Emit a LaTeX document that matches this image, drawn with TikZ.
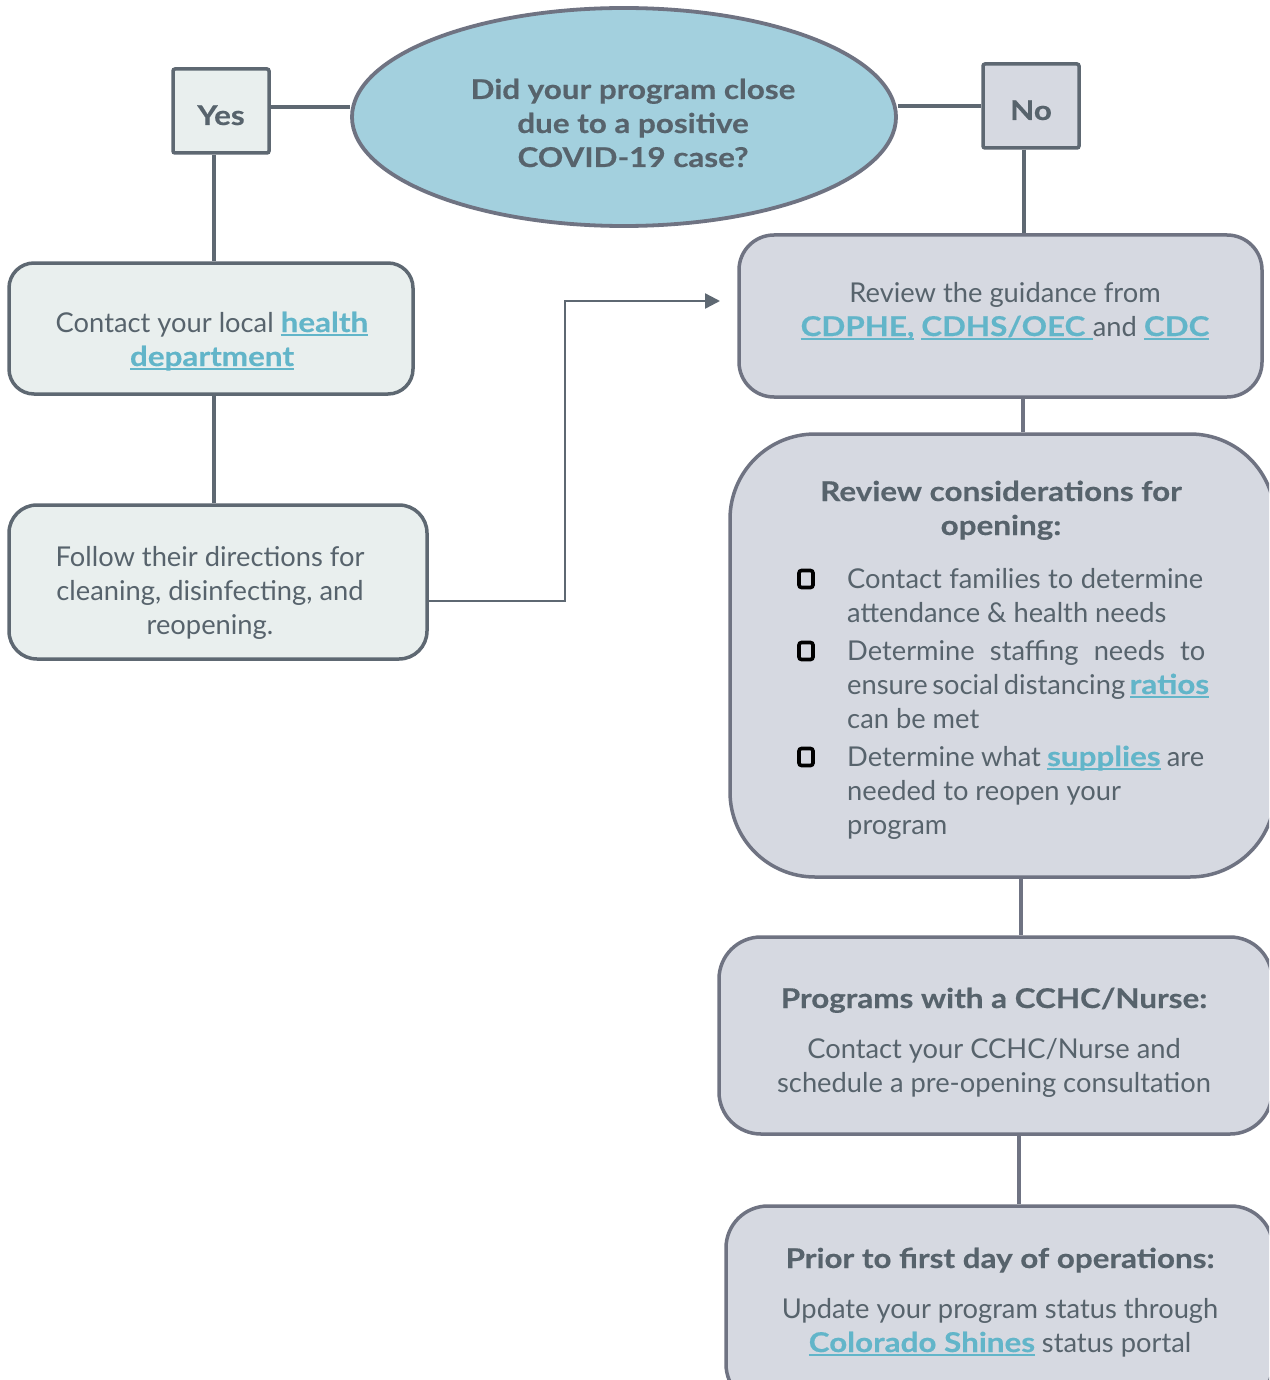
\documentclass[tikz,border=0pt]{standalone}
\usepackage{fontspec}
\setmainfont{Lato}
\newfontfamily\bfam{Lato}[FakeStretch=1.15, FakeBold=0.4]
\usetikzlibrary{shapes.geometric,arrows.meta}
\definecolor{tg}{HTML}{57636C}
\definecolor{lnk}{HTML}{62B5C9}
\definecolor{fa}{HTML}{E9EFEE}
\definecolor{fb}{HTML}{D6D9E1}
\definecolor{ba}{HTML}{5E6872}
\definecolor{bb}{HTML}{6F7382}
\definecolor{qf}{HTML}{A3D0DE}
\newcommand\lk[1]{{\color{lnk}\setbox0\hbox{\bfam\bfseries #1}\rlap{\rule[-3.5pt]{\wd0}{2pt}}\box0}}
\tikzset{
  txt/.style={inner sep=0pt, text=tg, font=\fontsize{27.3}{34}\selectfont, anchor=base},
  txtl/.style={txt, anchor=base west},
  btxt/.style={txt, font=\fontsize{27.3}{34}\selectfont\bfam\bfseries},
  boxa/.style={draw=ba, fill=fa, line width=3.5pt, inner sep=0pt},
  boxb/.style={draw=bb, fill=fb, line width=3.5pt, inner sep=0pt},
  conn/.style={draw=ba, line width=3.8pt},
  connb/.style={draw=bb, line width=3.8pt},
  arr/.style={draw=ba, line width=2.4pt, -{Triangle[length=15pt,width=15pt]}},
  chk/.style={draw=black, line width=3.6pt, rounded corners=2.5pt, minimum width=14pt, minimum height=17pt, inner sep=0pt},
}
\begin{document}
\begin{tikzpicture}[x=1pt,y=-1pt]
\useasboundingbox (0,0) rectangle (1269,1380);
\clip (0,0) rectangle (1269,1380);
\fill[white] (0,0) rectangle (1269,1380);

% question
\node[ellipse, draw=bb, fill=qf, line width=3.8pt, minimum width=544pt, minimum height=218pt, inner sep=0pt] (q) at (624,117) {};
\node[btxt] (q1) at (633,99) {Did your program close};
\node[btxt] (q2) at (633,133) {due to a positive};
\node[btxt] (q3) at (633,167) {COVID-19 case?};

% yes / no
\node[boxa, rounded corners=2pt, minimum width=96pt, minimum height=84pt] (yes) at (221,111) {};
\node[btxt] (yest) at (221,125) {Yes};
\node[boxa, fill=fb, rounded corners=2pt, minimum width=96pt, minimum height=84pt] (no) at (1031,106) {};
\node[btxt] (not) at (1031,120) {No};

% left boxes
\node[boxa, rounded corners=25pt, minimum width=404pt, minimum height=131pt] (b1) at (211,328.5) {};
\node[txt] (b1a) at (212,332) {Contact your local \lk{health}};
\node[txt] (b1b) at (212,366) {\lk{department}};

\node[boxa, rounded corners=28pt, minimum width=418pt, minimum height=154pt] (b2) at (218,582) {};
\node[txt] (b2a) at (210,566) {Follow their directions for};
\node[txt] (b2b) at (210,600) {cleaning, disinfecting, and};
\node[txt] (b2c) at (210,634) {reopening.};

% right boxes
\node[boxb, rounded corners=35pt, minimum width=523pt, minimum height=162pt] (b3) at (1000.5,316) {};
\node[txt] (b3a) at (1005,302) {Review the guidance from};
\node[txt] (b3b) at (1005,336) {\lk{CDPHE,}\ \lk{CDHS/OEC\ }and \lk{CDC}};

\node[boxb, rounded corners=85pt, minimum width=545pt, minimum height=443pt] (b4) at (1002.5,655.5) {};
\node[btxt] (b4a) at (1001,501) {Review considerations for};
\node[btxt] (b4b) at (1001,535) {opening:};
\node[chk] (k1) at (806,579) {};
\node[chk] (k2) at (806,651) {};
\node[chk] (k3) at (806,757) {};
\node[txtl] (i1a) at (847,588) {\makebox[356pt][s]{Contact families to determine}};
\node[txtl] (i1b) at (847,622) {attendance \& health needs};
\node[txtl] (i2a) at (847,660) {\makebox[358pt][s]{Determine staffing needs to}};
\node[txtl] (i2b) at (847,694) {\makebox[361pt][s]{ensure social distancing \lk{ratios}}};
\node[txtl] (i2c) at (847,728) {can be met};
\node[txtl] (i3a) at (847,766) {\makebox[357pt][s]{Determine what \lk{supplies} are}};
\node[txtl] (i3b) at (847,800) {needed to reopen your};
\node[txtl] (i3c) at (847,834) {program};

\node[boxb, rounded corners=42pt, minimum width=553pt, minimum height=197pt] (b5) at (995.5,1035.5) {};
\node[btxt] (b5a) at (994,1008) {Programs with a CCHC/Nurse:};
\node[txt] (b5b) at (994,1058) {Contact your CCHC/Nurse and};
\node[txt] (b5c) at (994,1092) {schedule a pre-opening consultation};

\node[boxb, rounded corners=42pt, minimum width=547pt, minimum height=200pt] (b6) at (999.5,1306) {};
\node[btxt] (b6a) at (1000,1268) {Prior to first day of operations:};
\node[txt] (b6b) at (1000,1318) {Update your program status through};
\node[txt] (b6c) at (1000,1352) {\lk{Colorado Shines} status portal};

% connector coordinates
\coordinate (cY) at (214,0);
\coordinate (cN) at (1024,0);
\coordinate (c34) at (1023,0);
\coordinate (c45) at (1021,0);
\coordinate (c56) at (1019,0);
\coordinate (yl) at (0,107);
\coordinate (a0) at (0,601);
\coordinate (turn) at (565,301);
\coordinate (tip) at (720,301);

% connectors
\draw[conn] (yes.east |- yl) -- (q.west |- yl);
\draw[conn] (q.east |- no.west) -- (no.west);
\draw[conn] (yes.south -| cY) -- (b1.north -| cY);
\draw[conn] (b1.south -| cY) -- (b2.north -| cY);
\draw[arr] (b2.east |- a0) -| (turn) -- (tip);
\draw[conn] (no.south -| cN) -- (b3.north -| cN);
\draw[connb] (b3.south -| c34) -- (b4.north -| c34);
\draw[connb] (b4.south -| c45) -- (b5.north -| c45);
\draw[connb] (b5.south -| c56) -- (b6.north -| c56);
\end{tikzpicture}
\end{document}
